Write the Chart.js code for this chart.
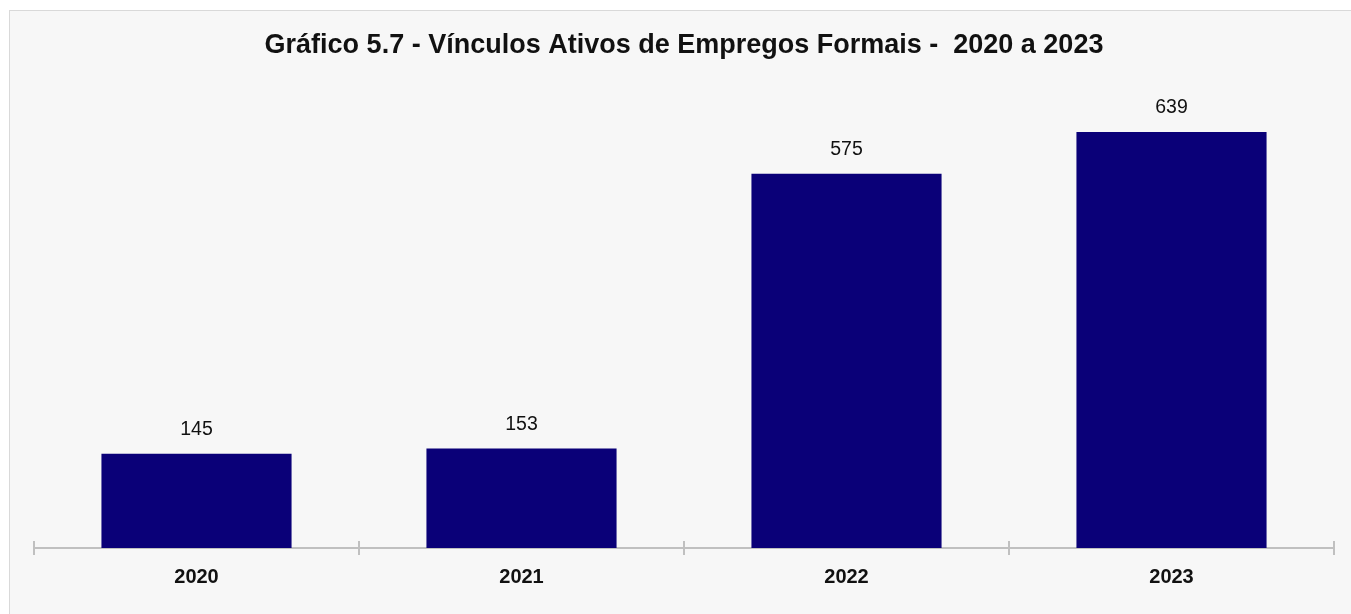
<!DOCTYPE html>
<html>
<head>
<meta charset="utf-8">
<script src="https://cdn.jsdelivr.net/npm/chart.js@4"></script>
<style>
    html, body { margin: 0; padding: 0; background: #ffffff; overflow: hidden; }
    #frame {
        position: absolute; left: 9px; top: 10px;
        width: 1400px; height: 700px;
        background: #f7f7f7; border: 1px solid #d9d9d9;
    }
    #wrap { position: absolute; left: 0; top: 0; width: 1351px; height: 614px; }
</style>
</head>
<body>
<div id="frame"></div>
<div id="wrap"><canvas id="vinculosChart"></canvas></div>
<script>
var YEARS = ['2020', '2021', '2022', '2023'];
var VINCULOS = [145, 153, 575, 639];
var TITLE = 'Gráfico 5.7 - Vínculos Ativos de Empregos Formais -  2020 a 2023';

var BAR_COLOR = '#0a0078';
var AXIS_GRAY = '#c0c0c0';
var FONT = '"Liberation Sans", Arial, sans-serif';

// value labels above the bars
var valueLabels = {
    id: 'valueLabels',
    afterDatasetsDraw: function(chart) {
        var ctx = chart.ctx;
        var meta = chart.getDatasetMeta(0);
        ctx.save();
        ctx.font = '19.5px ' + FONT;
        ctx.fillStyle = '#111111';
        ctx.textAlign = 'center';
        ctx.textBaseline = 'middle';
        meta.data.forEach(function(bar, i) {
            ctx.fillText(String(VINCULOS[i]), bar.x, bar.y - 24);
        });
        ctx.restore();
    }
};

// tick marks reach above the axis line too
var upTicks = {
    id: 'upTicks',
    afterDraw: function(chart) {
        var x = chart.scales.x;
        var ctx = chart.ctx;
        var half = (x.getPixelForValue(1) - x.getPixelForValue(0)) / 2;
        ctx.save();
        ctx.strokeStyle = AXIS_GRAY;
        ctx.lineWidth = 2;
        for (var i = 0; i <= YEARS.length; i++) {
            var px = Math.round(x.getPixelForValue(i) - half);
            ctx.beginPath();
            ctx.moveTo(px, x.top - 7);
            ctx.lineTo(px, x.top);
            ctx.stroke();
        }
        ctx.restore();
    }
};

new Chart(document.getElementById('vinculosChart'), {
    type: 'bar',
    data: {
        labels: YEARS,
        datasets: [{ data: VINCULOS, backgroundColor: BAR_COLOR, categoryPercentage: 0.585, barPercentage: 1 }]
    },
    options: {
        responsive: true,
        maintainAspectRatio: false,
        animation: false,
        layout: { padding: { left: 34, right: 17, top: 10, bottom: 15 } },
        plugins: {
            legend: { display: false },
            tooltip: { enabled: false },
            title: {
                display: true,
                text: TITLE,
                color: '#111111',
                font: { family: FONT, size: 27, weight: 'bold' },
                padding: { top: 19, bottom: 31 }
            }
        },
        scales: {
            y: { display: false, min: 0, max: 700 },
            x: {
                grid: { display: true, drawOnChartArea: false, color: AXIS_GRAY, lineWidth: 2, tickLength: 7 },
                border: { display: true, color: AXIS_GRAY, width: 2 },
                ticks: { color: '#111111', padding: 10, font: { family: FONT, size: 20, weight: 'bold' } }
            }
        }
    },
    plugins: [valueLabels, upTicks]
});
</script>
</body>
</html>
